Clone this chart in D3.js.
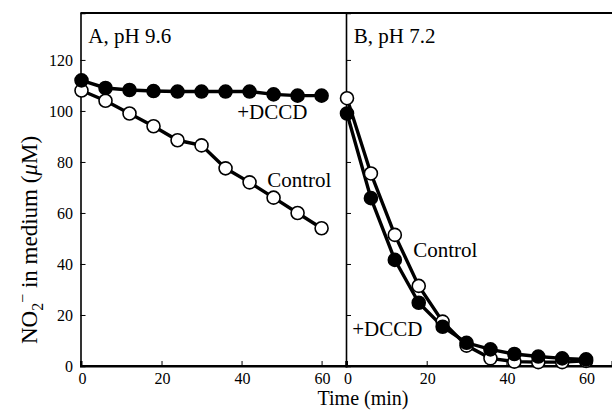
<!DOCTYPE html>
<html>
<head>
<meta charset="utf-8">
<script src="https://cdn.jsdelivr.net/npm/d3@7"></script>
<style>
  body { margin: 0; background: #fff; }
  svg { display: block; }
  svg text { font-family: "Liberation Serif", "DejaVu Serif", serif; fill: #000; }
</style>
</head>
<body>
<div class="chart"></div>
<script>
// Nitrite uptake, two pH panels sharing one y axis

// Data
var times = [0, 6, 12, 18, 24, 30, 36, 42, 48, 54, 60];
var controlA = [108, 104, 99, 94, 88.5, 86.5, 77.5, 72, 66, 60, 54];
var dccdA = [112, 109, 108.2, 107.8, 107.6, 107.6, 107.6, 107.6, 106.5, 106, 106];
var controlB = [105, 75.5, 51.4, 31.4, 17.4, 8, 3, 1.7, 1.5, 1.5, 2];
var dccdB = [99, 65.8, 41.6, 24.8, 15.4, 9.1, 6.5, 4.7, 3.7, 3.0, 2.6];
var yTicks = [0, 20, 40, 60, 80, 100, 120];
var xTicks = [0, 20, 40, 60];
var panelTitles = ["A, pH 9.6", "B, pH 7.2"];

var width = 612, height = 418;

var svg = d3.select(".chart").append("svg")
            .attr("width", width)
            .attr("height", height);

// Scales
var y = d3.scaleLinear().domain([0, 138.4]).range([366, 13]);
var xA = d3.scaleLinear().domain([-0.25, 66.1]).range([80.5, 346]);
var xB = d3.scaleLinear().domain([-0.25, 66.5]).range([346, 612]);

var panels = [
  { x: xA, control: controlA, dccd: dccdA, title: panelTitles[0],
    labels: [{ text: "+DCCD", t: 38.9, v: 96.9 }, { text: "Control", t: 46.4, v: 70.2 }] },
  { x: xB, control: controlB, dccd: dccdB, title: panelTitles[1],
    labels: [{ text: "Control", t: 16.6, v: 42.7 }, { text: "+DCCD", t: 1.3, v: 11.8 }] }
];

// Frame: top line runs across both panels
svg.append("line")
   .attr("x1", 80.5).attr("x2", width)
   .attr("y1", y.range()[1]).attr("y2", y.range()[1])
   .attr("stroke", "#000").attr("stroke-width", 1.8);

// Left axis of panel A
var yAxisA = svg.append("g")
   .attr("transform", "translate(" + xA.range()[0] + ",0)")
   .call(d3.axisRight(y).tickValues(yTicks).tickSize(5).tickFormat(""));
yAxisA.select(".domain").attr("stroke-width", 1.6);

yTicks.forEach(function(v) {
  svg.append("text")
     .attr("x", 73)
     .attr("y", y(v))
     .attr("dy", "0.35em")
     .attr("text-anchor", "end")
     .attr("font-size", 16)
     .text(v);
});

// Divider, which is also the y axis of panel B (ticks face right)
var yAxisB = svg.append("g")
   .attr("transform", "translate(" + xB.range()[0] + ",0)")
   .call(d3.axisRight(y).tickValues(yTicks).tickSize(5).tickFormat(""));
yAxisB.select(".domain").attr("stroke-width", 1.6);

// Bottom axes
panels.forEach(function(p) {
  var ax = svg.append("g")
     .attr("transform", "translate(0," + y(0) + ")")
     .call(d3.axisTop(p.x).tickValues(xTicks).tickSize(5).tickFormat(""));
  ax.select(".domain").attr("stroke-width", 2);

  xTicks.forEach(function(t) {
    svg.append("text")
       .attr("x", p.x(t) + 1)
       .attr("y", 384)
       .attr("text-anchor", "middle")
       .attr("font-size", 16)
       .text(t);
  });
});

svg.append("line")
   .attr("x1", 80.5).attr("x2", width)
   .attr("y1", y(0)).attr("y2", y(0))
   .attr("stroke", "#000").attr("stroke-width", 2.2);

// Series
panels.forEach(function(p) {
  var line = d3.line()
               .x(function(d, i) { return p.x(times[i]); })
               .y(function(d) { return y(d); });

  var series = [
    { values: p.control, fill: "#fff" },
    { values: p.dccd, fill: "#000" }
  ];

  series.forEach(function(s) {
    svg.append("path")
       .datum(s.values)
       .attr("d", line)
       .attr("fill", "none")
       .attr("stroke", "#000")
       .attr("stroke-width", 3.4);
  });

  series.forEach(function(s) {
    svg.append("g").selectAll("circle")
       .data(s.values)
       .enter().append("circle")
       .attr("cx", function(d, i) { return p.x(times[i]); })
       .attr("cy", function(d) { return y(d); })
       .attr("r", 6.5)
       .attr("fill", s.fill)
       .attr("stroke", "#000")
       .attr("stroke-width", 1.6);
  });

  // Panel title and series labels
  svg.append("text")
     .attr("x", p.x(1.7))
     .attr("y", 43)
     .attr("font-size", 21)
     .text(p.title);

  p.labels.forEach(function(l) {
    svg.append("text")
       .attr("x", p.x(l.t))
       .attr("y", y(l.v))
       .attr("font-size", 21)
       .text(l.text);
  });
});

// Axis titles
svg.append("text")
   .attr("x", 363)
   .attr("y", 405)
   .attr("text-anchor", "middle")
   .attr("font-size", 20)
   .text("Time (min)");

var yLabel = svg.append("text")
   .attr("transform", "translate(37,240) rotate(-90)")
   .attr("text-anchor", "middle")
   .attr("font-size", 23);
yLabel.append("tspan").text("NO");
yLabel.append("tspan").attr("font-size", 16).attr("dy", 6).text("2");
yLabel.append("tspan").attr("font-size", 16).attr("dy", -15).text("\u2212");
yLabel.append("tspan").attr("dy", 9).text(" in medium (");
yLabel.append("tspan").attr("font-style", "italic").text("\u03bc");
yLabel.append("tspan").text("M)");
</script>
</body>
</html>
